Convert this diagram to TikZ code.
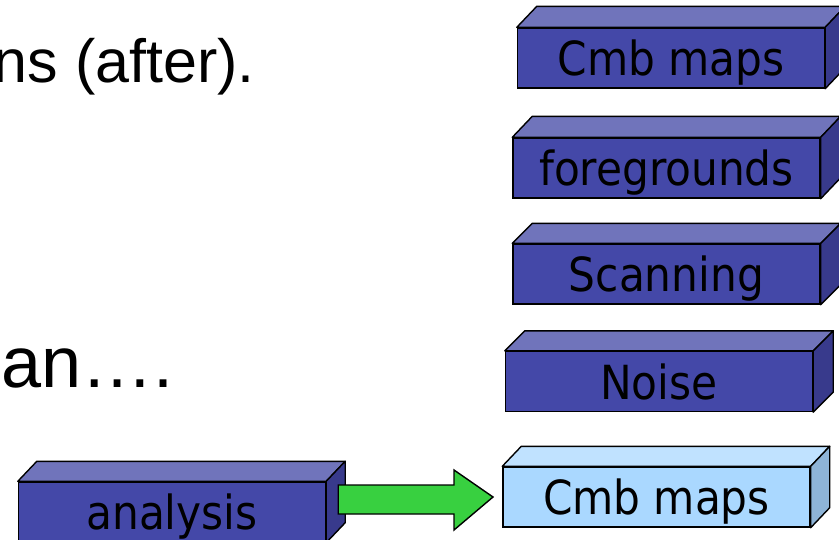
\documentclass[tikz,border=0pt]{standalone}
\usepackage{fontspec}
\setmainfont{Liberation Sans}
\newfontfamily\slabfont{DejaVu Sans Condensed}
\usetikzlibrary{calc}

\definecolor{slabfront}{RGB}{68,72,168}
\definecolor{slabtop}{RGB}{112,116,187}
\definecolor{slabside}{RGB}{56,58,140}
\definecolor{lightfront}{RGB}{170,216,255}
\definecolor{lighttop}{RGB}{192,226,255}
\definecolor{lightside}{RGB}{142,180,215}
\definecolor{arrowgreen}{RGB}{56,208,64}

\tikzset{
  slab/.style={draw=black, line width=1.4pt, fill=slabfront, minimum width=307pt,
    minimum height=60pt, inner sep=0pt, text height=35pt, text depth=0pt,
    font=\slabfont\fontsize{47}{52}\selectfont},
  lightslab/.style={slab, fill=lightfront},
  slabtopface/.style={draw=black, line width=1.4pt, line join=round, fill=slabtop},
  slabsideface/.style={draw=black, line width=1.4pt, line join=round, fill=slabside},
  lighttopface/.style={slabtopface, fill=lighttop},
  lightsideface/.style={slabsideface, fill=lightside},
  blockarrow/.style={draw=black, line width=1.4pt, line join=miter, fill=arrowgreen},
  bullet/.style={inner sep=0pt, anchor=base east}
}

% front face node, then its top and side faces
\newcommand{\slabfaces}[4]{%
  \draw[#3] (#1.north west) -- ++(#2) -- ($(#1.north east)+(#2)$) -- (#1.north east) -- cycle;
  \draw[#4] (#1.north east) -- ($(#1.north east)+(#2)$) -- ($(#1.south east)+(#2)$) -- (#1.south east) -- cycle;
}

\begin{document}
\begin{tikzpicture}[x=1pt, y=-1pt]
\useasboundingbox (0,0) rectangle (839,539);
\clip (0,0) rectangle (839,539);

% bullet text
\node[bullet, font=\fontsize{61}{70}\selectfont] (after) at (255,82) {ns (after).};
\node[bullet, font=\fontsize{72}{80}\selectfont] (than) at (174,387) {an\ldots.};

% stack of slabs
\node[slab] (cmb) at (671,58) {Cmb maps};
\slabfaces{cmb}{20,-21}{slabtopface}{slabsideface}

\node[slab] (fg) at (666.5,168) {foregrounds};
\slabfaces{fg}{20,-21}{slabtopface}{slabsideface}

\node[slab] (scan) at (666.5,274) {Scanning};
\slabfaces{scan}{20,-20}{slabtopface}{slabsideface}

\node[slab] (noise) at (659,381.5) {Noise};
\slabfaces{noise}{20,-20}{slabtopface}{slabsideface}

\node[lightslab] (cmbout) at (656.5,497) {Cmb maps};
\slabfaces{cmbout}{19,-20}{lighttopface}{lightsideface}

\node[slab] (ana) at (172,512) {analysis};
\slabfaces{ana}{19,-20}{slabtopface}{slabsideface}

% block arrow from analysis to the output maps
\coordinate (tail) at ($(ana.east)+(12,-12)$);
\draw[blockarrow]
  (tail |- 0,485) -- (454,485) -- (454,470) -- (cmbout.west -| 493,500)
  -- (454,530) -- (454,514) -- (tail |- 0,514) -- cycle;
\end{tikzpicture}
\end{document}
